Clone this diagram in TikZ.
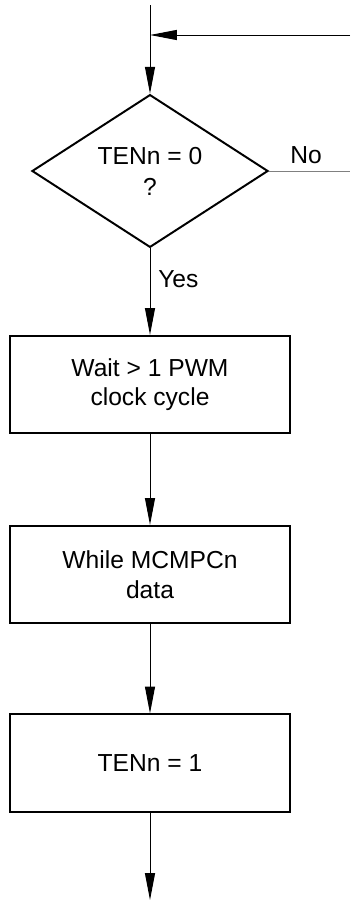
\documentclass[tikz,border=0pt]{standalone}
\usepackage{fontspec}
\setmainfont{Liberation Sans}
\usepackage{tikz}
\usetikzlibrary{arrows.meta, shapes.geometric, positioning}
\tikzset{
  flowbox/.style={
    rectangle, draw, line width=1.4pt,
    minimum width=7cm, minimum height=2.43cm,
    align=center, font=\fontsize{17.5}{21}\selectfont
  },
  testbox/.style={
    diamond, draw, line width=1.4pt, inner sep=0pt,
    minimum width=5.9cm, minimum height=3.7cm,
    align=center, font=\fontsize{17.5}{22}\selectfont
  },
  flowarrow/.style={-{Triangle[length=0.67cm,width=0.25cm]}, line width=0.7pt},
  flowlabel/.style={inner sep=0pt, font=\fontsize{17.5}{21}\selectfont},
}

\begin{document}
\begin{tikzpicture}[x=0.025cm, y=-0.025cm]
  \useasboundingbox (0,0) rectangle (350,901);

  \coordinate (entry)  at (150,5);
  \coordinate (loopin) at (350,35);
  \coordinate (noout)  at (350,171);
  \coordinate (exit)   at (150,900);

  \node[testbox] (test)  at (150,171)   {TENn = 0\\?};
  \node[flowbox] (wait)  at (150,384.5) {Wait > 1 PWM\\clock cycle};
  \node[flowbox] (write) at (150,574.5) {While MCMPCn\\data};
  \node[flowbox] (set)   at (150,763)   {TENn = 1};

  \draw[flowarrow] (entry) -- (test.north);
  \draw[flowarrow] (loopin) -- (entry |- loopin);
  \draw[line width=0.7pt, gray] (test.east) -- (noout);
  \draw[flowarrow] (test.south) -- (wait.north);
  \draw[flowarrow] (wait.south) -- (write.north);
  \draw[flowarrow] (write.south) -- (set.north);
  \draw[flowarrow] (set.south) -- (exit);

  \node[flowlabel, anchor=base west] (no)  at (290,163) {No};
  \node[flowlabel, anchor=base west] (yes) at (158,287) {Yes};
\end{tikzpicture}
\end{document}
